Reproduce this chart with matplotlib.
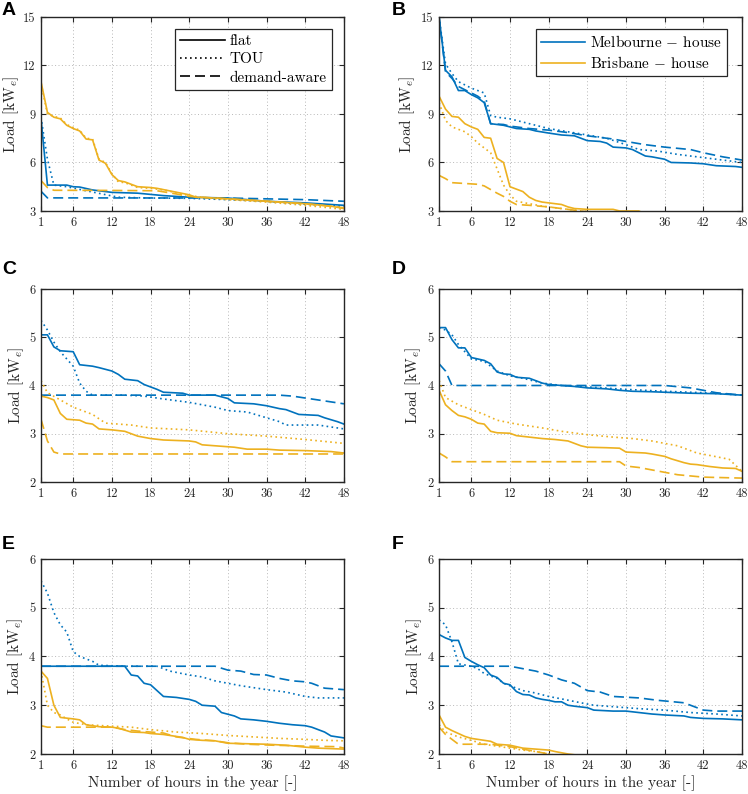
import matplotlib
matplotlib.use('Agg')
import matplotlib.pyplot as plt
from matplotlib.lines import Line2D

plt.rcParams['font.family'] = 'serif'
plt.rcParams['font.serif'] = ['cmr10']
plt.rcParams['mathtext.fontset'] = 'cm'
plt.rcParams['axes.unicode_minus'] = False

# colours (MATLAB default blue / yellow)
c_mel = '#0072BD'
c_bri = '#EDB120'

# ---------------- data: hours and load (kW_e) ----------------
# Panel A
a_mel_flat_x = [1, 2, 5, 6, 7, 9, 12, 16, 20, 24, 30, 36, 42, 48]
a_mel_flat_y = [8.7, 4.6, 4.6, 4.5, 4.48, 4.3, 4.15, 4.1, 3.95, 3.85, 3.8, 3.6, 3.5, 3.35]
a_mel_tou_x = [1, 2, 3, 5, 8, 13, 18, 24, 30, 36, 42, 48]
a_mel_tou_y = [8.8, 6.2, 4.6, 4.5, 4.25, 3.85, 3.8, 3.78, 3.7, 3.6, 3.42, 3.3]
a_mel_da_x = [1, 2, 30, 36, 42, 48]
a_mel_da_y = [4.22, 3.81, 3.8, 3.75, 3.7, 3.6]
a_bri_flat_x = [1, 2, 3, 4, 5, 6, 7, 8, 9, 10, 11, 12, 13, 14, 15, 16, 18, 19, 24, 25, 28, 32, 36, 42, 46, 48]
a_bri_flat_y = [11.0, 9.1, 8.8, 8.7, 8.3, 8.1, 7.95, 7.45, 7.4, 6.15, 5.95, 5.25, 4.88, 4.8, 4.65, 4.5,
                4.45, 4.4, 4.0, 3.85, 3.8, 3.7, 3.6, 3.45, 3.3, 3.15]
a_bri_tou_x = [1, 2, 3, 4, 5, 6, 7, 8, 9, 10, 11, 12, 13, 14, 16, 18, 20, 24, 28, 32, 36, 42, 48]
a_bri_tou_y = [10.9, 9.0, 8.85, 8.75, 8.35, 8.15, 8.0, 7.5, 7.45, 6.2, 6.0, 5.3, 4.8, 4.75, 4.45, 4.4,
               4.3, 3.95, 3.75, 3.65, 3.55, 3.35, 3.1]
a_bri_da_x = [1, 2, 3, 12, 19, 22, 24, 30, 36, 42, 48]
a_bri_da_y = [4.88, 4.45, 4.28, 4.27, 4.25, 4.05, 3.9, 3.75, 3.6, 3.45, 3.2]

# Panel B
b_mel_flat_x = [1, 2, 3, 4, 5, 6, 7, 8, 9, 10, 11, 12, 13, 15, 16, 18, 20, 22, 24, 26, 27, 28, 30, 31,
                33, 34, 36, 37, 40, 42, 44, 47, 48]
b_mel_flat_y = [15, 11.7, 11.3, 10.45, 10.45, 10.2, 10.0, 9.7, 8.4, 8.35, 8.3, 8.2, 8.1, 8.05, 7.95,
                7.82, 7.7, 7.65, 7.35, 7.3, 7.2, 6.95, 6.9, 6.8, 6.4, 6.35, 6.2, 6.0, 5.97, 5.92,
                5.8, 5.75, 5.7]
b_mel_tou_x = [1, 2, 3, 4, 5, 6, 7, 8, 9, 10, 12, 14, 16, 18, 21, 24, 27, 30, 32, 35, 38, 42, 45, 48]
b_mel_tou_y = [15, 12.1, 11.5, 11.0, 10.8, 10.6, 10.45, 10.3, 8.9, 8.8, 8.7, 8.5, 8.3, 8.1, 7.9, 7.7,
               7.5, 7.1, 6.8, 6.7, 6.5, 6.3, 6.15, 6.0]
b_mel_da_x = [1, 2, 3, 4, 5, 6, 7, 8, 9, 11, 12, 15, 18, 21, 24, 28, 30, 33, 36, 40, 42, 45, 48]
b_mel_da_y = [15, 11.6, 11.2, 10.7, 10.5, 10.3, 10.1, 9.8, 8.4, 8.35, 8.25, 8.1, 8.0, 7.85, 7.65,
              7.45, 7.3, 7.1, 6.95, 6.8, 6.6, 6.35, 6.15]
b_bri_flat_x = [1, 2, 3, 4, 5, 6, 7, 8, 9, 10, 11, 12, 13, 14, 15, 16, 17, 18, 20, 21, 22, 24, 28, 29,
                32, 33, 48]
b_bri_flat_y = [10.1, 9.3, 8.85, 8.8, 8.4, 8.2, 8.05, 7.55, 7.5, 6.25, 6.0, 4.5, 4.35, 4.2, 3.85,
                3.65, 3.55, 3.5, 3.4, 3.25, 3.15, 3.1, 3.1, 3.0, 3.0, 2.8, 2.5]
b_bri_tou_x = [1, 2, 3, 5, 6, 7, 8, 9, 10, 11, 12, 13, 15, 17, 19, 21, 23, 26, 48]
b_bri_tou_y = [9.7, 8.6, 8.2, 7.9, 7.6, 7.2, 6.9, 6.6, 5.6, 4.6, 4.0, 3.6, 3.45, 3.3, 3.2, 3.1,
               3.0, 2.9, 2.5]
b_bri_da_x = [1, 2, 3, 5, 7, 8, 10, 11, 12, 13, 15, 18, 20, 22, 24, 48]
b_bri_da_y = [5.2, 5.0, 4.75, 4.7, 4.65, 4.55, 4.1, 3.9, 3.6, 3.4, 3.35, 3.25, 3.15, 3.05, 2.95, 2.5]

# Panel C
c_mel_flat_x = [1, 2, 3, 4, 6, 7, 9, 10, 12, 13, 14, 16, 17, 19, 20, 23, 24, 28, 30, 31, 34, 36, 38,
                39, 41, 44, 45, 47, 48]
c_mel_flat_y = [5.05, 5.05, 4.8, 4.72, 4.7, 4.43, 4.4, 4.37, 4.3, 4.23, 4.13, 4.1, 4.02, 3.92, 3.86,
                3.84, 3.8, 3.8, 3.73, 3.64, 3.62, 3.58, 3.52, 3.5, 3.4, 3.38, 3.33, 3.25, 3.2]
c_mel_tou_x = [1, 2, 3, 4, 5, 6, 7, 8, 9, 14, 17, 20, 24, 26, 28, 30, 33, 36, 38, 39, 44, 47, 48]
c_mel_tou_y = [5.35, 5.15, 4.9, 4.7, 4.55, 4.4, 4.05, 3.88, 3.8, 3.8, 3.78, 3.72, 3.65, 3.6, 3.55,
               3.48, 3.45, 3.33, 3.25, 3.18, 3.18, 3.12, 3.1]
c_mel_da_x = [1, 38, 40, 44, 48]
c_mel_da_y = [3.8, 3.8, 3.78, 3.7, 3.62]
c_bri_flat_x = [1, 2, 3, 4, 5, 7, 8, 9, 10, 12, 14, 16, 18, 20, 24, 25, 26, 28, 30, 31, 33, 36, 38,
                42, 46, 48]
c_bri_flat_y = [3.78, 3.75, 3.7, 3.42, 3.3, 3.28, 3.22, 3.2, 3.1, 3.08, 3.05, 2.95, 2.9, 2.87, 2.85,
                2.83, 2.77, 2.75, 2.73, 2.72, 2.68, 2.68, 2.66, 2.65, 2.63, 2.6]
c_bri_tou_x = [1, 2, 4, 6, 7, 9, 11, 15, 18, 24, 30, 36, 42, 48]
c_bri_tou_y = [4.1, 3.85, 3.7, 3.55, 3.5, 3.4, 3.22, 3.18, 3.12, 3.08, 3.0, 2.95, 2.88, 2.8]
c_bri_da_x = [1, 2, 3, 4, 48]
c_bri_da_y = [3.3, 2.85, 2.62, 2.58, 2.58]

# Panel D
d_mel_flat_x = [1, 2, 3, 4, 5, 6, 7, 8, 9, 10, 11, 12, 13, 15, 16, 17, 18, 20, 22, 24, 27, 29, 31,
                34, 36, 40, 44, 48]
d_mel_flat_y = [5.2, 5.2, 4.95, 4.78, 4.78, 4.58, 4.55, 4.52, 4.45, 4.28, 4.24, 4.23, 4.17, 4.15,
                4.1, 4.05, 4.02, 4.0, 3.98, 3.95, 3.93, 3.9, 3.88, 3.87, 3.86, 3.84, 3.83, 3.8]
d_mel_tou_x = [1, 2, 3, 4, 5, 6, 8, 10, 12, 14, 17, 20, 24, 30, 36, 42, 48]
d_mel_tou_y = [5.2, 5.15, 5.05, 4.85, 4.7, 4.55, 4.5, 4.3, 4.2, 4.15, 4.05, 4.0, 3.97, 3.92, 3.88,
               3.85, 3.8]
d_mel_da_x = [1, 2, 3, 36, 40, 44, 48]
d_mel_da_y = [4.45, 4.3, 4.0, 4.0, 3.95, 3.85, 3.8]
d_bri_flat_x = [1, 2, 3, 4, 5, 6, 7, 8, 9, 10, 12, 13, 15, 17, 19, 21, 22, 23, 24, 27, 29, 30, 33,
                34, 36, 37, 39, 40, 41, 43, 45, 47, 48]
d_bri_flat_y = [3.9, 3.6, 3.48, 3.38, 3.35, 3.3, 3.22, 3.2, 3.05, 3.02, 3.01, 2.96, 2.93, 2.9, 2.88,
                2.85, 2.8, 2.75, 2.72, 2.71, 2.7, 2.62, 2.6, 2.58, 2.53, 2.48, 2.4, 2.37, 2.36,
                2.32, 2.29, 2.28, 2.22]
d_bri_tou_x = [1, 2, 4, 6, 8, 10, 13, 17, 20, 24, 28, 31, 34, 36, 38, 39, 41, 43, 46, 48]
d_bri_tou_y = [4.1, 3.75, 3.6, 3.5, 3.4, 3.28, 3.2, 3.12, 3.05, 2.98, 2.93, 2.9, 2.85, 2.8, 2.75,
               2.7, 2.6, 2.55, 2.47, 2.22]
d_bri_da_x = [1, 2, 3, 29, 30, 32, 34, 36, 38, 42, 48]
d_bri_da_y = [2.6, 2.52, 2.42, 2.42, 2.33, 2.3, 2.25, 2.2, 2.15, 2.1, 2.08]

# Panel E
e_mel_flat_x = [1, 14, 15, 16, 17, 18, 19, 20, 22, 24, 25, 26, 28, 29, 31, 32, 34, 36, 38, 40, 42,
                43, 45, 46, 48]
e_mel_flat_y = [3.8, 3.8, 3.62, 3.6, 3.45, 3.42, 3.3, 3.18, 3.16, 3.12, 3.08, 3.0, 2.98, 2.85, 2.78,
                2.72, 2.7, 2.67, 2.63, 2.6, 2.58, 2.55, 2.45, 2.37, 2.33]
e_mel_tou_x = [1, 2, 3, 4, 5, 6, 7, 9, 10, 14, 19, 21, 24, 26, 28, 30, 32, 36, 39, 42, 44, 48]
e_mel_tou_y = [5.55, 5.3, 4.9, 4.65, 4.5, 4.1, 4.0, 3.9, 3.82, 3.8, 3.8, 3.7, 3.62, 3.58, 3.5, 3.45,
               3.4, 3.32, 3.27, 3.18, 3.15, 3.15]
e_mel_da_x = [1, 28, 30, 32, 34, 36, 38, 40, 42, 43, 45, 48]
e_mel_da_y = [3.8, 3.8, 3.72, 3.7, 3.63, 3.62, 3.55, 3.5, 3.48, 3.45, 3.35, 3.32]
e_bri_flat_x = [1, 2, 3, 4, 6, 7, 8, 10, 12, 13, 15, 17, 18, 20, 21, 23, 24, 26, 28, 30, 33, 36, 39,
                42, 44, 48]
e_bri_flat_y = [3.7, 3.55, 3.0, 2.75, 2.72, 2.7, 2.6, 2.56, 2.55, 2.53, 2.45, 2.44, 2.42, 2.4, 2.38,
                2.34, 2.3, 2.28, 2.27, 2.22, 2.21, 2.2, 2.18, 2.14, 2.12, 2.1]
e_bri_tou_x = [1, 2, 3, 4, 5, 6, 8, 12, 15, 18, 22, 26, 30, 34, 38, 42, 45, 48]
e_bri_tou_y = [3.7, 3.0, 2.85, 2.8, 2.72, 2.65, 2.6, 2.57, 2.55, 2.5, 2.45, 2.42, 2.38, 2.35, 2.32,
               2.3, 2.28, 2.27]
e_bri_da_x = [1, 2, 12, 14, 16, 20, 22, 25, 28, 30, 33, 37, 40, 42, 47, 48]
e_bri_da_y = [2.58, 2.55, 2.55, 2.5, 2.47, 2.43, 2.35, 2.3, 2.27, 2.23, 2.2, 2.18, 2.17, 2.16, 2.15,
              2.12]

# Panel F
f_mel_flat_x = [1, 2, 3, 4, 5, 6, 7, 8, 9, 10, 11, 12, 13, 14, 15, 16, 17, 18, 19, 20, 21, 22, 24,
                25, 28, 30, 32, 34, 36, 39, 40, 42, 45, 48]
f_mel_flat_y = [4.45, 4.38, 4.33, 4.33, 3.98, 3.9, 3.83, 3.77, 3.62, 3.57, 3.45, 3.42, 3.28, 3.22,
                3.21, 3.15, 3.12, 3.1, 3.07, 3.07, 3.0, 2.98, 2.95, 2.9, 2.88, 2.88, 2.85, 2.82,
                2.8, 2.78, 2.75, 2.73, 2.72, 2.7]
f_mel_tou_x = [1, 2, 3, 4, 6, 7, 8, 10, 11, 13, 14, 16, 18, 20, 23, 25, 28, 32, 36, 40, 44, 48]
f_mel_tou_y = [4.75, 4.65, 4.3, 3.85, 3.8, 3.75, 3.65, 3.55, 3.45, 3.35, 3.3, 3.25, 3.18, 3.13,
               3.05, 3.0, 2.97, 2.93, 2.9, 2.85, 2.82, 2.78]
f_mel_da_x = [1, 12, 14, 16, 18, 20, 22, 24, 26, 28, 32, 35, 39, 42, 44, 48]
f_mel_da_y = [3.8, 3.8, 3.75, 3.7, 3.62, 3.52, 3.45, 3.3, 3.27, 3.18, 3.15, 3.1, 3.05, 2.9, 2.88,
              2.88]
f_bri_flat_x = [1, 2, 3, 4, 5, 6, 8, 9, 10, 12, 14, 16, 18, 19, 21, 24, 30, 48]
f_bri_flat_y = [2.8, 2.55, 2.48, 2.42, 2.36, 2.32, 2.28, 2.26, 2.2, 2.18, 2.12, 2.1, 2.08, 2.05,
                2.0, 1.95, 1.9, 1.8]
f_bri_tou_x = [1, 2, 4, 6, 8, 10, 12, 14, 16, 18, 20, 48]
f_bri_tou_y = [2.6, 2.45, 2.35, 2.28, 2.2, 2.16, 2.12, 2.08, 2.05, 2.0, 1.95, 1.8]
f_bri_da_x = [1, 2, 3, 4, 9, 12, 14, 16, 18, 20, 48]
f_bri_da_y = [2.55, 2.4, 2.3, 2.2, 2.2, 2.15, 2.1, 2.05, 2.0, 1.95, 1.8]

x_ticks = [1, 6, 12, 18, 24, 30, 36, 42, 48]
y_ticks_top = [3, 6, 9, 12, 15]
y_ticks_low = [2, 3, 4, 5, 6]

# line styles for the three tariffs
ls_flat = '-'
ls_tou = (0, (1, 2))
ls_da = (0, (6, 3))

# letter, axes rect, ylim, yticks, ylabel x (axes frac), letter pos (fig frac), series
panels = [
    ('A', [0.0548, 0.7343, 0.405, 0.2443], (3, 15), y_ticks_top, -0.066, (0.002, 0.9975),
     [(a_mel_flat_x, a_mel_flat_y, a_mel_tou_x, a_mel_tou_y, a_mel_da_x, a_mel_da_y, c_mel),
      (a_bri_flat_x, a_bri_flat_y, a_bri_tou_x, a_bri_tou_y, a_bri_da_x, a_bri_da_y, c_bri)]),
    ('B', [0.587, 0.7343, 0.405, 0.2443], (3, 15), y_ticks_top, -0.073, (0.524, 0.9975),
     [(b_mel_flat_x, b_mel_flat_y, b_mel_tou_x, b_mel_tou_y, b_mel_da_x, b_mel_da_y, c_mel),
      (b_bri_flat_x, b_bri_flat_y, b_bri_tou_x, b_bri_tou_y, b_bri_da_x, b_bri_da_y, c_bri)]),
    ('C', [0.0548, 0.393, 0.405, 0.243], (2, 6), y_ticks_low, -0.050, (0.003, 0.6713),
     [(c_mel_flat_x, c_mel_flat_y, c_mel_tou_x, c_mel_tou_y, c_mel_da_x, c_mel_da_y, c_mel),
      (c_bri_flat_x, c_bri_flat_y, c_bri_tou_x, c_bri_tou_y, c_bri_da_x, c_bri_da_y, c_bri)]),
    ('D', [0.587, 0.393, 0.405, 0.243], (2, 6), y_ticks_low, -0.053, (0.524, 0.6713),
     [(d_mel_flat_x, d_mel_flat_y, d_mel_tou_x, d_mel_tou_y, d_mel_da_x, d_mel_da_y, c_mel),
      (d_bri_flat_x, d_bri_flat_y, d_bri_tou_x, d_bri_tou_y, d_bri_da_x, d_bri_da_y, c_bri)]),
    ('E', [0.0548, 0.0504, 0.405, 0.2456], (2, 6), y_ticks_low, -0.053, (0.003, 0.3250),
     [(e_mel_flat_x, e_mel_flat_y, e_mel_tou_x, e_mel_tou_y, e_mel_da_x, e_mel_da_y, c_mel),
      (e_bri_flat_x, e_bri_flat_y, e_bri_tou_x, e_bri_tou_y, e_bri_da_x, e_bri_da_y, c_bri)]),
    ('F', [0.587, 0.0504, 0.405, 0.2456], (2, 6), y_ticks_low, -0.049, (0.524, 0.3250),
     [(f_mel_flat_x, f_mel_flat_y, f_mel_tou_x, f_mel_tou_y, f_mel_da_x, f_mel_da_y, c_mel),
      (f_bri_flat_x, f_bri_flat_y, f_bri_tou_x, f_bri_tou_y, f_bri_da_x, f_bri_da_y, c_bri)]),
]

fig = plt.figure(figsize=(7.48, 7.94), dpi=100)
axes = {}

for letter, pos, ylim, yt, ylab_x, lpos, series in panels:
    ax = fig.add_axes(pos)
    axes[letter] = ax
    for fx, fy, tx, ty, dx, dy, col in series:
        ax.plot(fx, fy, color=col, linestyle=ls_flat, lw=1.2)
        ax.plot(tx, ty, color=col, linestyle=ls_tou, lw=1.2)
        ax.plot(dx, dy, color=col, linestyle=ls_da, lw=1.2)
    ax.set_xlim(1, 48)
    ax.set_ylim(*ylim)
    ax.set_xticks(x_ticks)
    ax.set_xticklabels([str(t) for t in x_ticks])
    ax.set_yticks(yt)
    ax.set_yticklabels([str(t) for t in yt])
    ax.grid(True, color='0.72', linestyle=(0, (1, 2.5)), lw=0.7)
    ax.tick_params(direction='in', top=True, right=True, length=3.5, width=0.8,
                   labelsize=9, colors='#262626', pad=4)
    for sp in ax.spines.values():
        sp.set_linewidth(1.0)
        sp.set_color('#262626')
    ax.set_ylabel(r'Load $[\mathrm{kW}_e]$', fontsize=11, color='#262626')
    ax.yaxis.set_label_coords(ylab_x, 0.5)
    if letter in ('E', 'F'):
        ax.set_xlabel('Number of hours in the year [-]', fontsize=11, color='#262626', labelpad=3)
    # panel letter
    fig.text(lpos[0], lpos[1], letter, fontsize=14, fontweight='bold',
             family='Liberation Sans', ha='left', va='top')

# tariff legend (panel A)
h_tariff = [Line2D([], [], color='black', linestyle=ls_flat, lw=1.2),
            Line2D([], [], color='black', linestyle=ls_tou, lw=1.2),
            Line2D([], [], color='black', linestyle=ls_da, lw=1.2)]
leg = axes['A'].legend(h_tariff, ['flat', 'TOU', 'demand-aware'], loc='upper right',
                       fontsize=11, handlelength=2.9, handletextpad=0.3, borderpad=0.35,
                       labelspacing=0.3, fancybox=False, framealpha=1, edgecolor='#262626',
                       bbox_to_anchor=(0.96, 0.938), borderaxespad=0)
leg.get_frame().set_linewidth(0.9)

# location legend (panel B)
h_loc = [Line2D([], [], color=c_mel, lw=1.2), Line2D([], [], color=c_bri, lw=1.2)]
leg2 = axes['B'].legend(h_loc, [r'Melbourne $-$ house', r'Brisbane $-$ house'], loc='upper right',
                        fontsize=11, handlelength=2.9, handletextpad=0.3, borderpad=0.35,
                        labelspacing=0.3, fancybox=False, framealpha=1, edgecolor='#262626',
                        bbox_to_anchor=(0.95, 0.938), borderaxespad=0)
leg2.get_frame().set_linewidth(0.9)

fig.savefig('out.png', dpi=100)
